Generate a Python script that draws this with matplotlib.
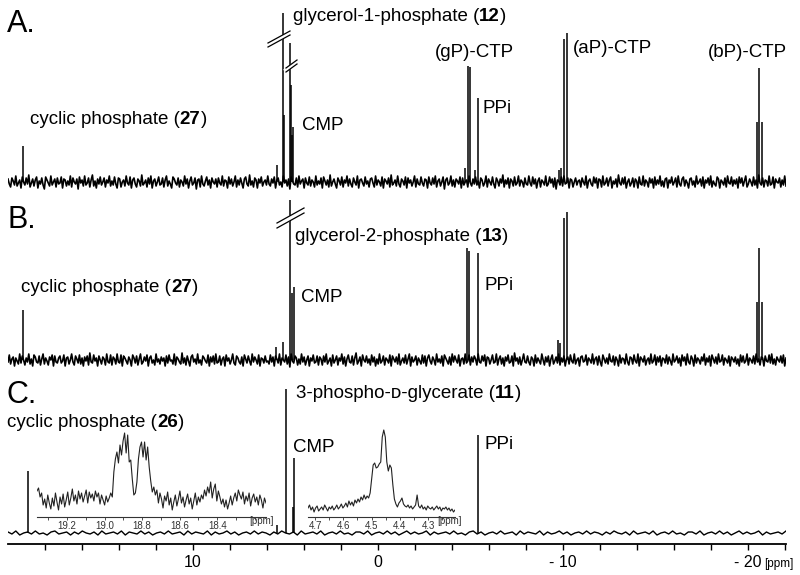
import numpy as np
import matplotlib.pyplot as plt
from matplotlib.lines import Line2D
from matplotlib.text import Annotation

plt.rcParams['font.family'] = ['Liberation Sans', 'DejaVu Sans']

W, H = 800, 575
PPM_LEFT, PPM_RIGHT = 20.0, -22.05

# peak positions (ppm) and heights (a.u.)
PEAKS_A_PPM = [19.19, 5.48, 5.12, 5.06, 4.76, 4.70, 4.63, 4.58, -4.72, -4.88, -4.97,
               -5.24, -5.39, -9.80, -9.90, -10.05, -10.20, -20.50, -20.61, -20.74]
PEAKS_A_INT = [36, 17, 169, 67, 139, 97, 47, 55, 14, 116, 115,
               12, 84, 12, 14, 143, 149, 60, 114, 60]

PEAKS_B_PPM = [19.19, 5.51, 5.14, 4.76, 4.63, 4.52, -4.79, -4.92, -5.39,
               -9.73, -9.84, -10.05, -10.20, -20.49, -20.60, -20.74]
PEAKS_B_INT = [50, 13, 18, 162, 67, 73, 112, 109, 107,
               20, 17, 142, 148, 58, 112, 58]

PEAKS_C_PPM = [18.90, 5.48, 4.97, 4.61, 4.54, -5.39]
PEAKS_C_INT = [62, 8, 144, 26, 75, 98]

# baseline noise (a.u.)
NOISE_A = [3,-2,-5,4,1,-3,6,-4,-1,2,-6,5,0,-3,4,-2,7,-5,-1,3,-4,2,5,-6,1,-2,4,-3,-7,5,2,-1,-4,6,-3,0,3,-5,4,-2,
           -1,5,-6,3,2,-4,1,-3,6,-5,4,0,-2,3,-7,5,-1,2,-4,6,-3,-1,4,-5,2,7,-4,1,-6,3,-2,5,-3,0,4,-5,2,-1,6,-4,
           1,-3,5,-2,-6,4,3,-5,0,2,-4,6,-1,-3,5,-6,2,4,-2,-5,3,1,-4,7,-3,-1,2,-5,4,-2,6,-6,1,3,-4,0,5,-3,-2,4,
           -5,2,6,-4,1,-2,-6,5,3,-1,-3,4,-5,2,0,-4,6,-2,3,-6,1,5,-3,-1,4,-7,2,3,-5,6,-2,-4,1,5,-3,2,-6,4,0,-2,
           3,-5,4,-1,-3,6,-4,2,1,-6,5,-2,3,-4,0,6,-5,2,-3,4,-1,-6,3,5,-2,-4,7,-3,1,-5,4,2,-6,3,-1,5,-4,0,2,-3,
           6,-2,-4,3,-1,5,-6,2,4,-3,0,-5,6,-1,2,-4,3,-7,5,1,-2,-3,4,-5,6,-2,1,3,-6,4,-1,-3,5,-4,2,0,-5,6,-3,1,
           -2,4,-6,5,1,-3,2,-5,7,-4,0,3,-2,-6,4,1,-3,5,-5,2,-1,6,-4,3,-2,-5,4,0,-3,6,-6,2,3,-1,-4,5,-2,1,-5,3,
           4,-1,-5,6,-3,2,0,-4,5,-6,3,1,-2,4,-5,7,-3,-1,2,-4,6,-2,-5,3,1,-3,5,-6,4,-1,2,-4,0,6,-5,3,-2,-3,5,-1,
           -4,3,2,-6,5,-1,-3,4,-2,6,-5,1,3,-4,0,5,-7,2,4,-3,-1,6,-4,2,-5,3,1,-2,5,-6,4,-3,0,2,-5,6,-1,-4,3,-2,
           5,-3,1,-6,4,2,-4,-1,6,-5,3,0,-3,5,-2,-6,4,1,-4,3,-1,7,-5,2,-2,4,-6,3,1,-4,5,-3,-1,6,-4,2,0,-5,4,-2,
           -3,6,-1,-4,5,-2,3,-6,1,4,-5,2,0,-3,6,-4,-2,5,-1,3,-5,4,-7,2,1,-3,5,-4,6,-2,-1,4,-6,3,2,-5,0,4,-3,1,
           2,-5,4,0,-3,6,-6,1,3,-2,-4,5,-1,4,-6,3,2,-5,6,-3,-1,4,-4,2,5,-6,1,-2,3,-5,7,-1,-3,4,-2,5,-6,0,3,-4,
           -1,4,-5,3,1,-6,5,-2,-3,6,-4,2,0,-5,4,-1,3,-6,5,-3,2,-2,6,-4,1,-5,3,4,-6,2,-1,5,-3,0,4,-5,6,-2,-4,3,
           5,-4,2,-1,-6,3,4,-3,1,-5,6,-2,0,3,-4,5,-6,2,-1,4,-3,6,-5,1,-2,-4,5,3,-6,2,0,-3,4,-5,6,-1,-2,5,-4,2,
           -2,3,-6,5,-1,4,-4,1,6,-5,-2,3,0,-4,5,-3,2,-6,7,-1,-3,4,-5,2,1,-4,6,-3,-2,5,-6,3,0,-1,4,-5,2,-3,6,-4]
NOISE_B = [-2,5,-4,1,3,-6,2,-1,-4,6,-3,4,0,-5,2,-2,6,-4,1,-6,5,3,-2,-3,4,-5,1,6,-4,2,-1,-5,3,0,5,-6,4,-2,-3,2,
           4,-3,-1,5,-6,2,3,-4,0,6,-2,-5,4,1,-3,5,-4,2,-6,3,-1,4,-5,7,-2,-3,5,-1,2,-6,4,0,-4,3,1,-5,6,-2,-3,5,
           -5,3,1,-4,6,-2,-3,5,-6,4,2,-1,-4,3,0,-6,5,2,-3,4,-5,1,6,-4,-2,3,-1,5,-6,2,4,-3,0,-5,6,-2,1,-4,3,-1,
           2,-6,4,-3,5,-1,0,-4,6,-5,3,1,-2,-4,7,-3,2,-5,4,-1,-6,3,5,-2,1,-4,6,-3,0,-5,4,2,-1,-3,5,-6,3,-2,4,-4,
           6,-3,-2,4,-5,1,3,-6,5,-1,2,-4,0,6,-3,-5,4,2,-2,-4,3,-6,5,1,-3,4,-1,-5,6,-2,3,0,-4,5,-6,2,1,-3,4,-2,
           -1,-4,5,-2,3,-6,4,1,-3,6,-5,2,0,-2,5,-4,3,-7,6,-1,-3,4,2,-5,1,-4,6,-2,3,-5,0,4,-6,2,-1,5,-3,-2,4,-5,
           3,1,-5,4,-2,6,-4,-1,2,-6,5,-3,0,4,-5,2,-1,6,-4,3,-6,1,5,-2,-3,4,-5,2,7,-4,-1,3,-6,5,0,-2,4,-3,1,-5,
           5,-2,3,-6,1,-4,6,-3,-1,4,-5,2,0,-3,5,-6,4,1,-2,3,-4,6,-5,-1,2,-3,5,-4,1,6,-6,3,-2,0,4,-5,2,-1,-4,5,
           -3,4,-6,2,5,-1,-4,3,0,-5,6,-2,1,-3,4,-6,5,2,-1,-4,3,-5,6,-2,4,0,-3,5,-6,1,2,-4,6,-3,-1,5,-5,3,-2,4,
           1,-5,6,-2,-3,4,-1,5,-6,3,2,-4,0,5,-3,-2,6,-5,1,4,-4,2,-6,3,-1,5,-3,-2,4,-6,7,-1,2,-4,3,-5,0,6,-2,-3,
           4,-2,-5,3,1,-6,5,-3,2,-1,-4,6,0,-5,3,-2,4,-6,1,5,-4,-1,3,-3,6,-5,2,-2,4,-6,1,3,-4,5,-1,-3,6,-4,0,2,
           -6,3,4,-2,-1,5,-5,2,0,-3,6,-4,1,3,-5,4,-2,-6,5,1,-3,2,-4,6,-1,-2,4,-5,3,0,-6,5,-3,2,1,-4,6,-2,-5,3,
           2,-4,5,-1,-3,6,-6,3,1,-2,4,-5,0,2,-4,6,-3,-1,5,-5,3,-2,4,-6,2,1,-3,5,-4,3,-1,-5,6,-2,0,4,-3,2,-6,5,
           -1,3,-5,6,-2,-4,4,1,-6,5,-3,2,0,-4,3,-1,6,-5,2,-2,4,-6,5,1,-3,3,-4,6,-2,-1,5,-5,2,0,-3,4,-6,3,1,-2,
           3,-4,1,-6,5,-2,4,-3,-1,6,-5,2,0,-3,4,-4,6,-2,1,-5,3,2,-6,4,-1,-2,5,-3,6,-4,1,-5,3,0,-2,4,-3,5,-6,2]
NOISE_C = [1,-1,2,-2,0,1,-1,2,-1,0,-2,1,2,-1,0,1,-2,1,-1,2,0,-1,1,-2,2,-1,0,1,-1,2,-2,1,0,-1,2,-1,1,-2,0,1,
           -1,2,-1,0,1,-2,2,-1,1,0,-1,2,-2,1,-1,0,2,-1,1,-2,0,1,-1,2,-1,1,0,-2,1,-1,2,0,-1,1,-2,2,-1,0,1,-1,
           2,-2,0,1,-1,2,-1,0,-2,1,1,-1,2,-2,0,1,-1,2,-1,1,-2,0,2,-1,1,-1,0,2,-2,1,-1,0,1,-1,2,-1,0,-2,1,2,
           -1,1,-2,0,1,-1,2,-1,0,1,-2,2,-1,1,0,-1,2,-2,1,-1,0,2,-1,1,-2,0,1,-1,2,-1,1,0,-2,1,-1,2,0,-1,1,-2,
           2,-1,0,1,-1,2,-2,0,1,-1,2,-1,0,-2,1,1,-1,2,-2,0,1,-1,2,-1,1,-2,0,2,-1,1,-1,0,2,-2,1,-1,0,1,-1,2]

# insets of panel C (expanded multiplets)
INSET1_RANGE = (19.36, 18.14)
INSET1_INT = [26,29,20,24,12,18,9,22,14,8,19,11,24,15,7,20,13,23,10,17,25,12,19,28,16,22,13,26,18,24,15,21,27,14,25,19,23,16,26,20,24,13,22,17,12,21,15,19,24,
              20,45,58,65,54,72,62,76,84,64,82,55,57,38,22,24,35,58,70,75,60,75,57,70,50,36,25,
              30,22,27,14,24,18,9,21,16,25,12,19,7,15,22,11,18,26,14,20,10,17,23,13,19,8,16,24,12,20,15,22,18,27,21,30,24,35,19,28,33,16,26,20,13,18,10,17,8,14,21,12,19,24,16,27,22,18,25,13,21,16,24,11,19,23,15,20,12,22,17,9,19,14]
INSET1_TICKS = [19.2, 19.0, 18.8, 18.6, 18.4]

INSET2_RANGE = (4.725, 4.205)
INSET2_INT = [9,12,7,10,5,9,11,6,8,10,7,12,9,6,10,8,11,7,9,12,8,10,13,9,11,14,10,16,12,15,11,17,14,
              18,15,20,17,22,18,21,19,24,38,52,54,49,50,53,55,80,87,80,55,46,52,49,32,18,13,10,14,16,19,13,11,10,12,9,11,8,10,12,22,11,
              9,12,8,10,7,11,9,8,10,7,9,11,8,10,6,9,8,10,7,9,6,8,5,7]
INSET2_TICKS = [4.7, 4.6, 4.5, 4.4, 4.3]

MAIN_TICKS = [10, 0, -10, -20]
MAIN_TICK_LABELS = ['10', '0', '- 10', '- 20']

fig = plt.figure(figsize=(8, 5.75), dpi=100)


def px_axes(left, top, right, bottom):
    return fig.add_axes([left / W, 1 - bottom / H, (right - left) / W, (bottom - top) / H])


def spectrum(ax, noise, ppm, inten, ylim, lw):
    x = np.linspace(PPM_LEFT, PPM_RIGHT, len(noise))
    ax.plot(x, noise, color='k', lw=lw)
    ax.vlines(ppm, 0, inten, color='k', lw=1.1)
    ax.set_xlim(PPM_LEFT, PPM_RIGHT)
    ax.set_ylim(*ylim)
    for s in ax.spines.values():
        s.set_visible(False)
    ax.set_yticks([])
    ax.set_xticks([])
    ax.patch.set_alpha(0)


axA = px_axes(8, 0, 786, 200)
spectrum(axA, NOISE_A, PEAKS_A_PPM, PEAKS_A_INT, (-18, 182), 1.2)
axB = px_axes(8, 200, 786, 375)
spectrum(axB, NOISE_B, PEAKS_B_PPM, PEAKS_B_INT, (-15, 160), 1.2)
axC = px_axes(8, 375, 786, 544)
spectrum(axC, NOISE_C, PEAKS_C_PPM, PEAKS_C_INT, (-11, 158), 1.0)

# ppm axis only under panel C
axC.spines['bottom'].set_visible(True)
axC.spines['bottom'].set_linewidth(1.3)
axC.set_xticks(MAIN_TICKS)
axC.set_xticklabels(MAIN_TICK_LABELS)
axC.set_xticks(np.arange(18, -23, -2), minor=True)
axC.tick_params(axis='x', which='both', direction='out', length=4, width=1, labelsize=11.5, pad=4)


def inset(left, right, rng, vals, ticks, minor, fmt):
    ax = px_axes(left, 425, right, 517)
    ax.plot(np.linspace(rng[0], rng[1], len(vals)), vals, color='#222222', lw=0.8)
    ax.set_xlim(*rng)
    ax.set_ylim(0, 92)
    for k in ('top', 'left', 'right'):
        ax.spines[k].set_visible(False)
    ax.spines['bottom'].set_linewidth(0.8)
    ax.spines['bottom'].set_color('#333333')
    ax.set_yticks([])
    ax.set_xticks(ticks)
    ax.set_xticklabels([fmt % t for t in ticks])
    ax.set_xticks(minor, minor=True)
    ax.tick_params(axis='x', which='both', direction='out', length=2, width=0.6,
                   labelsize=7, pad=1, colors='#333333')
    ax.patch.set_alpha(0)
    return ax


inset(37, 266, INSET1_RANGE, INSET1_INT, INSET1_TICKS, np.arange(19.3, 18.15, -0.1), '%.1f')
inset(308, 455, INSET2_RANGE, INSET2_INT, INSET2_TICKS, np.arange(4.65, 4.22, -0.1), '%.1f')


def ftext(x, y, s, **kw):
    return fig.text(x / W, 1 - y / H, s, **kw)


def label(x, y, parts, size=13.5):
    t = ftext(x, y, parts[0][0], fontsize=size, fontweight=parts[0][1], va='baseline', ha='left')
    for s, w in parts[1:]:
        a = Annotation(s, xy=(1, 0), xycoords=t, fontsize=size, fontweight=w, va='bottom', ha='left')
        fig.add_artist(a)
        t = a


def cmpd(name, num):
    return [(name + ' (', 'normal'), (num, 'bold'), (')', 'normal')]


# panel letters
for lx, ly, s in [(7, 32, 'A.'), (7, 228, 'B.'), (7, 403, 'C.')]:
    ftext(lx, ly, s, fontsize=22, va='baseline')

# panel A labels
label(30, 124, cmpd('cyclic phosphate', '27'))
label(293, 21, cmpd('glycerol-1-phosphate', '12'))
label(302, 130, [('CMP', 'normal')])
label(435, 57, [('(gP)-CTP', 'normal')])
label(483, 113, [('PPi', 'normal')])
label(573, 53, [('(aP)-CTP', 'normal')])
label(708, 57, [('(bP)-CTP', 'normal')])

# panel B labels
label(21, 292, cmpd('cyclic phosphate', '27'))
label(295, 241, cmpd('glycerol-2-phosphate', '13'))
label(301, 302, [('CMP', 'normal')])
label(485, 290, [('PPi', 'normal')])

# panel C labels
label(7, 427, cmpd('cyclic phosphate', '26'))
label(296, 398, cmpd('3-phospho-\u1d05-glycerate', '11'))
label(293, 452, [('CMP', 'normal')])
label(485, 449, [('PPi', 'normal')])

# unit labels
ftext(764, 564, '[ppm]', fontsize=8.5, va='center', ha='left')
ftext(262, 521, '[ppm]', fontsize=7, va='center', ha='center', color='#333333')
ftext(450, 521, '[ppm]', fontsize=7, va='center', ha='center', color='#333333')


def brk(p1, p2, off):
    # axis break mark: white gap bounded by two slashes
    (x1, y1), (x2, y2) = p1, p2
    fig.add_artist(Line2D([x1 / W, x2 / W], [1 - (y1 + off / 2) / H, 1 - (y2 + off / 2) / H],
                          transform=fig.transFigure, color='white', lw=off * 0.72))
    for d in (0, off):
        fig.add_artist(Line2D([x1 / W, x2 / W], [1 - (y1 + d) / H, 1 - (y2 + d) / H],
                              transform=fig.transFigure, color='k', lw=0.9))


brk((268, 43), (290, 31), 4)
brk((286, 68), (297, 60), 4)
brk((277, 223), (304, 208), 5)

fig.savefig('out.png', dpi=100, facecolor='white')
